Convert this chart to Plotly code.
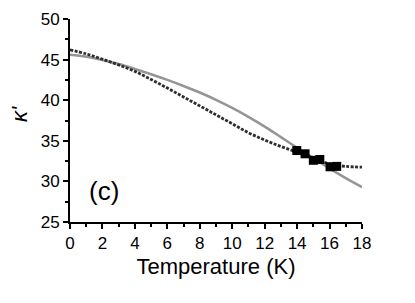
import plotly.graph_objects as go

# Data
T_curve = [0, 1, 2, 3, 4, 5, 6, 7, 8, 9, 10, 11, 12, 13, 14, 15, 16, 17, 18]
k_gray = [45.6, 45.35, 44.95, 44.45, 43.85, 43.2, 42.5, 41.75, 40.95, 40.05, 39.05,
          37.95, 36.75, 35.45, 34.15, 32.85, 31.6, 30.4, 29.3]
k_dark = [46.2, 45.7, 45.05, 44.35, 43.55, 42.55, 41.5, 40.4, 39.3, 38.2, 37.1, 36.0,
          35.1, 34.3, 33.6, 32.9, 32.15, 31.85, 31.75]
T_pts = [13.98, 14.49, 15.0, 15.4, 16.03, 16.44]
k_pts = [33.8, 33.4, 32.6, 32.7, 31.8, 31.85]

x_ticks = [0, 2, 4, 6, 8, 10, 12, 14, 16, 18]
y_ticks = [25, 30, 35, 40, 45, 50]

FONT = "Liberation Sans, Arial, sans-serif"

fig = go.Figure()
fig.add_trace(go.Scatter(x=T_curve, y=k_gray, mode="lines",
                         line=dict(color="#959595", width=2.5, shape="spline"),
                         showlegend=False))
fig.add_trace(go.Scatter(x=T_curve, y=k_dark, mode="lines",
                         line=dict(color="#2e2e2e", width=2.8, dash="3px,1.5px", shape="spline"),
                         showlegend=False))
fig.add_trace(go.Scatter(x=T_pts, y=k_pts, mode="markers",
                         marker=dict(symbol="square", size=9, color="black"),
                         showlegend=False))

fig.add_annotation(x=2.07, y=28.8, xref="x", yref="y", text="(c)", showarrow=False,
                   font=dict(family=FONT, size=26, color="black"))
fig.add_annotation(x=-0.222, y=0.53, xref="paper", yref="paper", text="<i>κ'</i>",
                   showarrow=False, textangle=-90,
                   font=dict(family=FONT, size=22, color="black"))

axis_common = dict(showline=True, linecolor="black", linewidth=2, ticks="outside",
                   ticklen=5, tickwidth=2, tickcolor="black", showgrid=False,
                   zeroline=False, mirror=False, automargin=False,
                   tickfont=dict(family=FONT, size=17, color="black"))

fig.update_xaxes(range=[0, 18], tickvals=x_ticks,
                 minor=dict(dtick=1, ticks="outside", ticklen=3, tickwidth=2, tickcolor="black"),
                 title=dict(text="Temperature (K)", font=dict(family=FONT, size=22, color="black"),
                            standoff=6),
                 **axis_common)
fig.update_yaxes(range=[25, 50], tickvals=y_ticks,
                 minor=dict(dtick=2.5, ticks="outside", ticklen=3, tickwidth=2, tickcolor="black"),
                 **axis_common)

fig.update_layout(width=415, height=303, margin=dict(l=70, r=53, t=19, b=81),
                  paper_bgcolor="white", plot_bgcolor="white",
                  font=dict(family=FONT, color="black"))

# remove the default 8px page margin so the figure fills the window exactly
fig.write_html("out.html", config={"displayModeBar": False},
               post_script="document.body.style.margin='0px';document.body.style.overflow='hidden';")
